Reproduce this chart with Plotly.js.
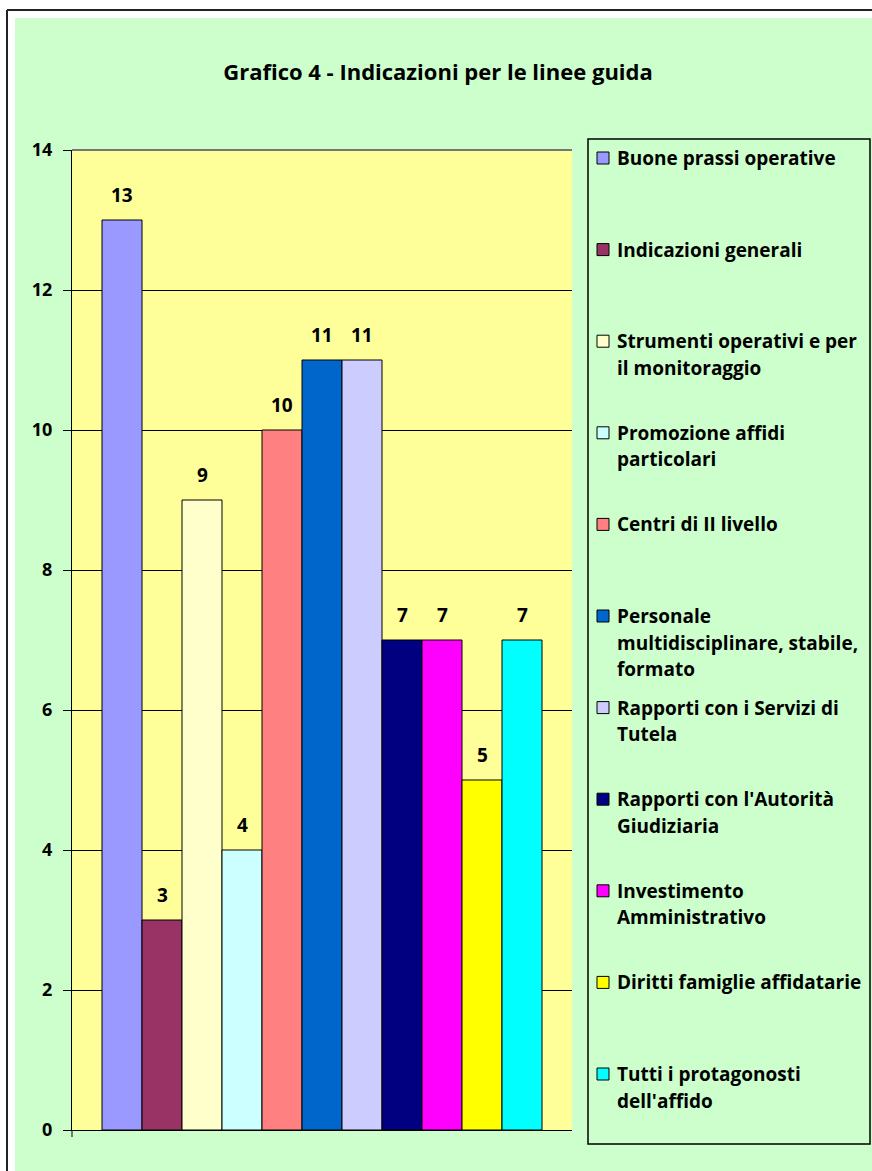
<!DOCTYPE html>
<html>
<head>
<meta charset="utf-8">
<script src="https://cdn.plot.ly/plotly-3.0.1.min.js"></script>
<style>
  html, body { margin: 0; padding: 0; background: #ffffff; }
  #chart { width: 872px; height: 1171px; }
</style>
</head>
<body>
<div id="chart"></div>
<script>
// Categories (legend lines split with <br> where the legend wraps)
const categories = [
  "Buone prassi operative",
  "Indicazioni generali",
  "Strumenti operativi e per<br>il monitoraggio",
  "Promozione affidi<br>particolari",
  "Centri di II livello",
  "Personale<br>multidisciplinare, stabile,<br>formato",
  "Rapporti con i Servizi di<br>Tutela",
  "Rapporti con l'Autorità<br>Giudiziaria",
  "Investimento<br>Amministrativo",
  "Diritti famiglie affidatarie",
  "Tutti i protagonosti<br>dell'affido"
];
const values = [13, 3, 9, 4, 10, 11, 11, 7, 7, 5, 7];
const colors = [
  "#9999FF", "#993366", "#FFFFCC", "#CCFFFF", "#FF8080", "#0066CC",
  "#CCCCFF", "#000080", "#FF00FF", "#FFFF00", "#00FFFF"
];
const yTicks = [0, 2, 4, 6, 8, 10, 12, 14];
const chartTitle = "Grafico 4 - Indicazioni per le linee guida";

const FONT = "'Open Sans', 'Noto Sans', 'DejaVu Sans', sans-serif";

// Plot-area box in page pixels, used to place frame, legend and title
const W = 872, H = 1171, L = 72, R = 572, T = 150, B = 1130;
const px = x => (x - L) / (R - L);
const py = y => (B - y) / (B - T);

const idx = values.map((_, i) => i);

const trace = {
  type: "bar",
  x: idx,
  y: values,
  marker: { color: colors, line: { color: "#000000", width: 1 } },
  hoverinfo: "skip",
  showlegend: false
};

const shapes = [];
const annotations = [];

// White margin and black frame around the green area
shapes.push({ type: "rect", xref: "paper", yref: "paper", x0: px(0), x1: px(W), y0: py(18), y1: py(0), fillcolor: "#ffffff", line: { width: 0 }, layer: "above" });
shapes.push({ type: "rect", xref: "paper", yref: "paper", x0: px(0), x1: px(15), y0: py(H), y1: py(0), fillcolor: "#ffffff", line: { width: 0 }, layer: "above" });
shapes.push({ type: "line", xref: "paper", yref: "paper", x0: px(7), x1: px(W), y0: py(10), y1: py(10), line: { color: "#222222", width: 2 } });
shapes.push({ type: "line", xref: "paper", yref: "paper", x0: px(7), x1: px(7), y0: py(10), y1: py(H), line: { color: "#222222", width: 2 } });

// Grey top edge of the plot area
shapes.push({ type: "line", xref: "paper", yref: "paper", x0: 0, x1: 1, y0: 1, y1: 1, line: { color: "#777777", width: 2 }, layer: "above" });
// Small tick below the category axis at its left end
shapes.push({ type: "line", xref: "paper", yref: "paper", x0: 0, x1: 0, y0: 0, y1: py(B + 7), line: { color: "#000000", width: 1 } });

// Value labels above the bars
values.forEach((v, i) => {
  annotations.push({
    x: i, y: v, xref: "x", yref: "y",
    text: String(v), showarrow: false,
    yanchor: "middle", yshift: 25,
    font: { family: FONT, size: 19, color: "#000000", weight: 700 }
  });
});

// Legend box with evenly spaced entries
const LEG = { x0: 588, x1: 870, y0: 139, y1: 1144, first: 158, step: 91.6, lineH: 26.5 };
shapes.push({ type: "rect", xref: "paper", yref: "paper", x0: px(LEG.x0), x1: px(LEG.x1), y0: py(LEG.y1), y1: py(LEG.y0), fillcolor: "#CCFFCC", line: { color: "#000000", width: 1.5 } });
categories.forEach((name, i) => {
  const cy = LEG.first + i * LEG.step;
  shapes.push({ type: "rect", xref: "paper", yref: "paper", x0: px(597), x1: px(609), y0: py(cy + 6), y1: py(cy - 6), fillcolor: colors[i], line: { color: "#000000", width: 1 } });
  name.split("<br>").forEach((line, k) => {
    annotations.push({
      xref: "paper", yref: "paper", x: px(615), y: py(cy + k * LEG.lineH),
      xanchor: "left", yanchor: "middle", align: "left",
      text: line, showarrow: false,
      font: { family: FONT, size: 19, color: "#000000", weight: 700 }
    });
  });
});

const layout = {
  width: W, height: H, autosize: false,
  margin: { l: L, r: W - R, t: T, b: H - B, pad: 0 },
  paper_bgcolor: "#CCFFCC",
  plot_bgcolor: "#FFFF99",
  font: { family: FONT, color: "#000000" },
  title: {
    text: chartTitle,
    font: { family: FONT, size: 22, color: "#000000", weight: 700 },
    xref: "paper", x: px(438), xanchor: "center",
    yref: "container", y: 1 - 72 / H, yanchor: "middle"
  },
  bargap: 0,
  xaxis: {
    range: [-1.25, 11.25],
    showticklabels: false, showgrid: false, zeroline: false,
    showline: true, linecolor: "#000000", linewidth: 1, ticks: "",
    fixedrange: true
  },
  yaxis: {
    range: [0, 14], tickvals: yTicks, ticktext: yTicks.map(String),
    showgrid: true, gridcolor: "#000000", gridwidth: 1,
    zeroline: false,
    showline: true, linecolor: "#000000", linewidth: 1,
    ticks: "outside", ticklen: 8, tickcolor: "#000000", tickwidth: 1,
    ticklabelstandoff: 7,
    tickfont: { family: FONT, size: 18, color: "#000000", weight: 700 },
    fixedrange: true
  },
  shapes: shapes,
  annotations: annotations,
  showlegend: false
};

Plotly.newPlot("chart", [trace], layout, { staticPlot: true, displayModeBar: false });
</script>
</body>
</html>
